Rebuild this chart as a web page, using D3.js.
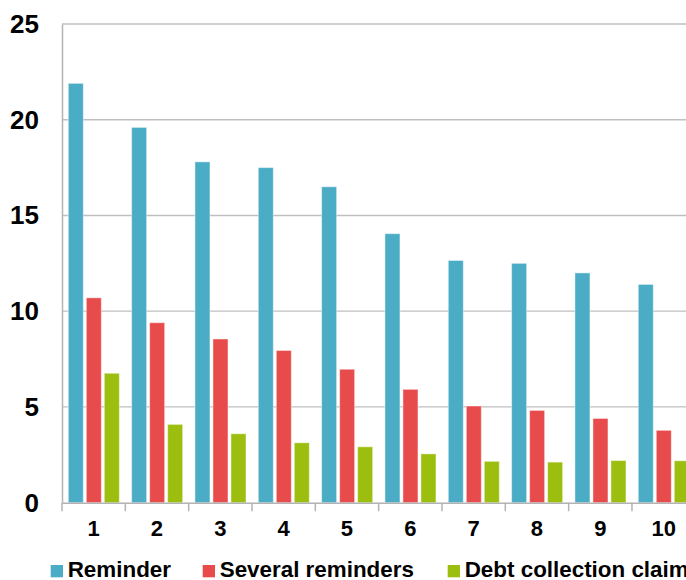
<!DOCTYPE html>
<html>
<head>
<meta charset="utf-8">
<script src="https://cdn.jsdelivr.net/npm/d3@7"></script>
<style>
  html, body { margin: 0; padding: 0; background: #fff; }
  svg { display: block; }
  text { font-family: "Liberation Sans", Arial, sans-serif; font-weight: bold; fill: #000; }
</style>
</head>
<body>
<svg id="chart" width="686" height="580"></svg>
<script>
const categories = ["1", "2", "3", "4", "5", "6", "7", "8", "9", "10"];
const seriesNames = ["Reminder", "Several reminders", "Debt collection claim"];
const reminder = [21.9, 19.6, 17.8, 17.5, 16.5, 14.05, 12.65, 12.5, 12.0, 11.4];
const severalReminders = [10.7, 9.4, 8.55, 7.95, 6.97, 5.92, 5.05, 4.82, 4.4, 3.78];
const debtCollection = [6.76, 4.09, 3.6, 3.13, 2.92, 2.55, 2.16, 2.12, 2.2, 2.19];
const yTicks = [0, 5, 10, 15, 20, 25];
const colors = ["#4BACC6", "#E84B4B", "#9BBE0F"];

(function () {
const seriesValues = [reminder, severalReminders, debtCollection];
const svg = d3.select("#chart");

const plotLeft = 62, plotTop = 24, plotBottom = 502.7;
const catStep = 63.33;
const plotRight = plotLeft + catStep * categories.length;

const y = d3.scaleLinear().domain([0, 25]).range([plotBottom, plotTop]);
const x0 = d3.scaleBand().domain(categories).range([plotLeft, plotRight]).paddingInner(0).paddingOuter(0);
const x1 = d3.scaleBand().domain(seriesNames).range([6.3, catStep - 6.0]).paddingInner(3 / 18).paddingOuter(0);

// gridlines
svg.append("g")
  .selectAll("line")
  .data(yTicks.filter(d => d > 0))
  .join("line")
  .attr("x1", plotLeft).attr("x2", 686)
  .attr("y1", d => y(d)).attr("y2", d => y(d))
  .attr("stroke", "#bfbfbf").attr("stroke-width", 1.3);

// bars
const groups = svg.append("g")
  .selectAll("g")
  .data(categories)
  .join("g")
  .attr("transform", d => `translate(${x0(d)},0)`);

groups.selectAll("rect")
  .data((c, i) => seriesNames.map((s, k) => ({ s, k, v: seriesValues[k][i] })))
  .join("rect")
  .attr("x", d => x1(d.s))
  .attr("width", x1.bandwidth())
  .attr("y", d => y(d.v))
  .attr("height", d => y(0) - y(d.v))
  .attr("fill", d => colors[d.k])
  .attr("stroke", "rgba(255,255,255,0.45)")
  .attr("stroke-width", 1);

// y axis
const yAxis = svg.append("g")
  .attr("transform", `translate(${plotLeft},0)`)
  .call(d3.axisLeft(y).tickValues(yTicks).tickSize(0).tickPadding(23));
yAxis.select(".domain").attr("stroke", "#b3b3b3").attr("stroke-width", 1.5);
yAxis.selectAll("text")
  .style("font-size", "26px")
  .style("font-family", "'Liberation Sans', Arial, sans-serif")
  .style("font-weight", "bold")
  .attr("fill", "#000");

// x axis
const xAxis = svg.append("g")
  .attr("transform", `translate(0,${plotBottom})`)
  .call(d3.axisBottom(x0).tickSize(0).tickPadding(17.5));
xAxis.select(".domain").attr("stroke", "#b3b3b3").attr("stroke-width", 1.5);
xAxis.selectAll("text")
  .style("font-size", "22px")
  .style("font-family", "'Liberation Sans', Arial, sans-serif")
  .style("font-weight", "bold")
  .attr("fill", "#000");
// category boundary tick marks
xAxis.append("g")
  .selectAll("line")
  .data(categories)
  .join("line")
  .attr("x1", d => x0(d)).attr("x2", d => x0(d))
  .attr("y1", 0).attr("y2", 8.5)
  .attr("stroke", "#b3b3b3").attr("stroke-width", 1.5);

// legend
const legendX = [50.7, 202.7, 447.7];
const legend = svg.append("g")
  .selectAll("g")
  .data(seriesNames)
  .join("g")
  .attr("transform", (d, i) => `translate(${legendX[i]},0)`);
legend.append("rect")
  .attr("x", 0).attr("y", 565)
  .attr("width", 12.3).attr("height", 12.3)
  .attr("fill", (d, i) => colors[i]);
legend.append("text")
  .attr("x", 17).attr("y", 577)
  .style("font-size", "22.4px")
  .text(d => d);
})();
</script>
</body>
</html>
